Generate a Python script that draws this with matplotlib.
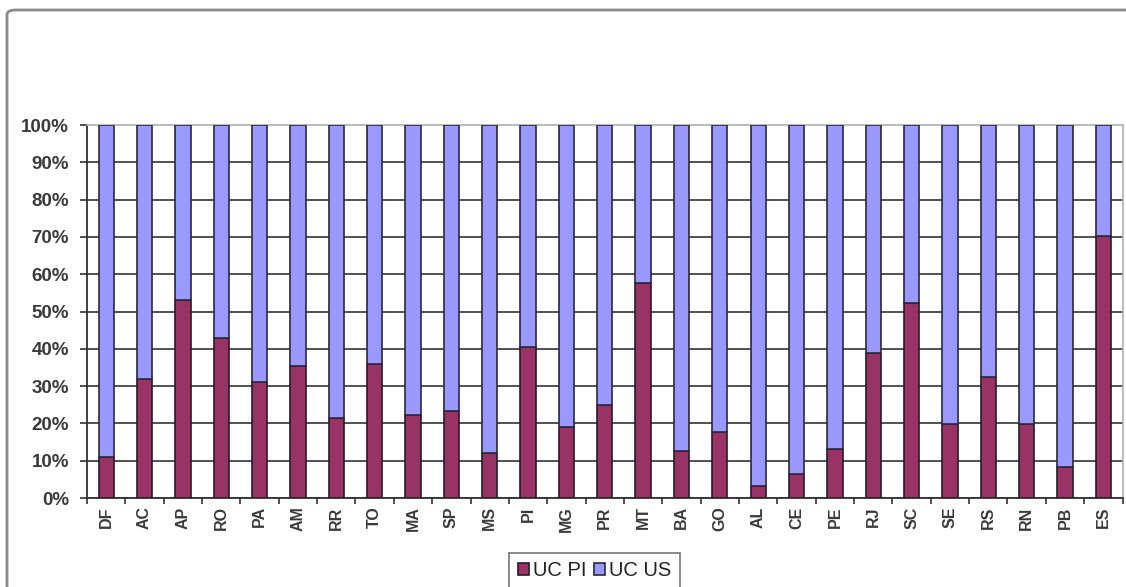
import matplotlib
matplotlib.use("Agg")
import matplotlib.pyplot as plt
from matplotlib.patches import FancyBboxPatch
import numpy as np

states = ["DF", "AC", "AP", "RO", "PA", "AM", "RR", "TO", "MA", "SP", "MS", "PI", "MG", "PR",
          "MT", "BA", "GO", "AL", "CE", "PE", "RJ", "SC", "SE", "RS", "RN", "PB", "ES"]
# share of protected area in "UC PI" (%), rest is "UC US"
uc_pi = [11.1, 31.9, 53.2, 42.9, 31.2, 35.3, 21.4, 36.0, 22.3, 23.4, 12.0, 40.4, 19.0, 25.0,
         57.6, 12.7, 17.8, 3.2, 6.4, 13.1, 39.0, 52.4, 19.9, 32.4, 19.9, 8.4, 70.2]
uc_us = [100 - v for v in uc_pi]
y_ticks = list(range(0, 101, 10))

plt.rcParams["font.family"] = ["Liberation Sans", "DejaVu Sans"]

fig = plt.figure(figsize=(11.26, 5.87), dpi=100)
ax = fig.add_axes([0.0773, 0.1516, 0.9196, 0.6354])

x = np.arange(len(states))
ax.bar(x, uc_pi, width=0.4, color="#993366", edgecolor="#2a1a2a", linewidth=1.2,
       label="UC PI", zorder=3)
ax.bar(x, uc_us, width=0.4, bottom=uc_pi, color="#9999FF", edgecolor="#2a2a3a",
       linewidth=1.2, label="UC US", zorder=3)

ax.set_xlim(-0.5, len(states) - 0.5)
ax.set_ylim(0, 100)
ax.set_yticks(y_ticks)
ax.set_yticklabels(["%d%%" % v for v in y_ticks], fontsize=13.5, fontweight="bold",
                   color="#3a3a3a")
ax.set_xticks(x)
ax.set_xticklabels(states, rotation=90, fontsize=11.5, fontweight="bold", color="#3a3a3a")
ax.set_xticks(np.arange(-0.5, len(states)), minor=True)
ax.tick_params(axis="x", which="major", length=0, pad=6)
ax.tick_params(axis="x", which="minor", length=4, width=1.2, color="#333333", direction="out")
ax.tick_params(axis="y", length=5, width=1.2, color="#333333", pad=8)

# horizontal gridlines
ax.yaxis.grid(True, color="#333333", linewidth=1.2, zorder=0)
ax.get_ygridlines()[-1].set_visible(False)
ax.set_axisbelow(True)

for side in ["top", "right"]:
    ax.spines[side].set_color("#b0b0b0")
    ax.spines[side].set_linewidth(1.2)
for side in ["left", "bottom"]:
    ax.spines[side].set_color("#333333")
    ax.spines[side].set_linewidth(1.3)

leg = fig.legend(loc="center", bbox_to_anchor=(0.528, 0.028), ncol=2,
                 fontsize=14.5, frameon=True, fancybox=False, handlelength=0.55,
                 handleheight=0.55, handletextpad=0.2, columnspacing=0.4,
                 borderpad=0.4)
leg.get_frame().set_edgecolor("#555555")
leg.get_frame().set_linewidth(1.2)
for t in leg.get_texts():
    t.set_color("#222222")

# outer chart border
border = FancyBboxPatch((7 / 1126, -0.2), 1.2, 1.2 - 10 / 587,
                        boxstyle="round,pad=0,rounding_size=0.008",
                        transform=fig.transFigure, facecolor="none",
                        edgecolor="#8a8a8a", linewidth=2, clip_on=False)
fig.patches.append(border)

fig.savefig("out.png", dpi=100)
